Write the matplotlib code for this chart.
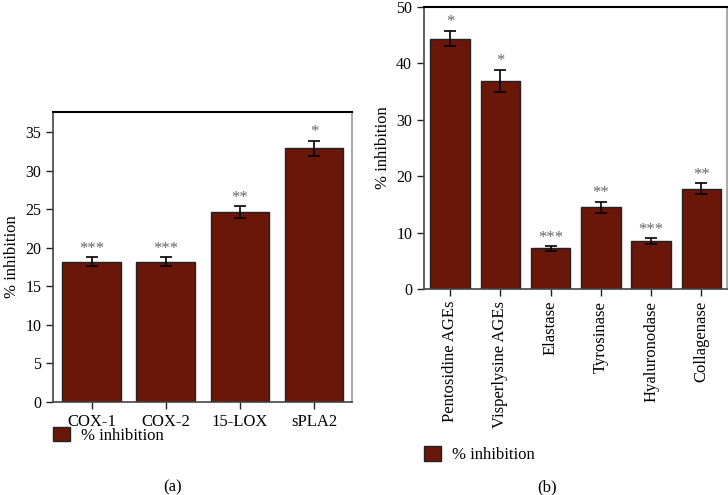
import numpy as np
import matplotlib
matplotlib.use("Agg")
import matplotlib.pyplot as plt

plt.rcParams['font.family'] = ['Liberation Serif', 'DejaVu Serif']
plt.rcParams['font.size'] = 12

# panel (a) - inflammation enzymes
enz_a = ['COX-1', 'COX-2', '15-LOX', 'sPLA2']
val_a = [18.2, 18.2, 24.6, 32.9]
err_a = [0.6, 0.6, 0.8, 1.0]
sig_a = ['***', '***', '**', '*']

# panel (b) - anti-ageing targets
enz_b = ['Pentosidine AGEs', 'Visperlysine AGEs', 'Elastase', 'Tyrosinase',
         'Hyaluronodase', 'Collagenase']
val_b = [44.4, 36.9, 7.2, 14.5, 8.5, 17.8]
err_b = [1.4, 2.0, 0.4, 1.0, 0.5, 0.95]
sig_b = ['*', '*', '***', '**', '***', '**']

bar_color = '#6a1709'

fig = plt.figure(figsize=(7.28, 4.95), dpi=100)
ax1 = fig.add_axes([0.0728, 0.1879, 0.4107, 0.5858])
ax2 = fig.add_axes([0.5824, 0.4162, 0.4162, 0.5697])


def draw(ax, names, vals, errs, sigs, ymax, step):
    x = np.arange(len(names))
    ax.bar(x, vals, width=0.79, color=bar_color, edgecolor='#222222',
           linewidth=1.0, label='% inhibition', zorder=2)
    ax.errorbar(x, vals, yerr=errs, fmt='none', ecolor='black', elinewidth=1.2,
                capsize=4.3, capthick=1.2, zorder=3)
    for xi, v, e, s in zip(x, vals, errs, sigs):
        ax.annotate(s, (xi, v + e), xytext=(0, 0.3), textcoords='offset points',
                    ha='center', va='bottom', color='#666666', fontsize=12)
    ax.set_xlim(-0.52, len(names) - 0.49)
    ax.set_ylim(0, ymax)
    ax.set_yticks(np.arange(0, ymax + 0.1, step))
    ax.set_xticks(x)
    ax.set_ylabel('% inhibition', fontsize=12)
    ax.tick_params(direction='out', length=5, width=1, colors='#222222',
                   labelcolor='black')
    ax.tick_params(axis='y', labelsize=11.5)
    ax.tick_params(axis='x', labelsize=12)
    for side in ['left', 'bottom']:
        ax.spines[side].set_color('#444444')
        ax.spines[side].set_linewidth(1.2)
    ax.spines['top'].set_color('black')
    ax.spines['top'].set_linewidth(1.5)
    ax.spines['right'].set_color('#999999')
    ax.spines['right'].set_linewidth(1.2)


draw(ax1, enz_a, val_a, err_a, sig_a, 37.6, 5)
ax1.set_xticklabels(enz_a)
draw(ax2, enz_b, val_b, err_b, sig_b, 50, 10)
ax2.set_xticklabels(enz_b, rotation=90)

for ax, y in [(ax1, 0.121), (ax2, 0.0818)]:
    leg = ax.legend(loc='center left', bbox_to_anchor=(ax.get_position().x0, y),
                    bbox_transform=fig.transFigure, frameon=False, borderpad=0,
                    borderaxespad=0, handlelength=1.0, handleheight=1.0,
                    handletextpad=0.7, fontsize=12)

fig.text(0.237, 1 - 487 / 495, '(a)', ha='center', va='center', fontsize=12)
fig.text(0.751, 1 - 487 / 495, '(b)', ha='center', va='center', fontsize=12)

fig.savefig('out.png', dpi=100)
